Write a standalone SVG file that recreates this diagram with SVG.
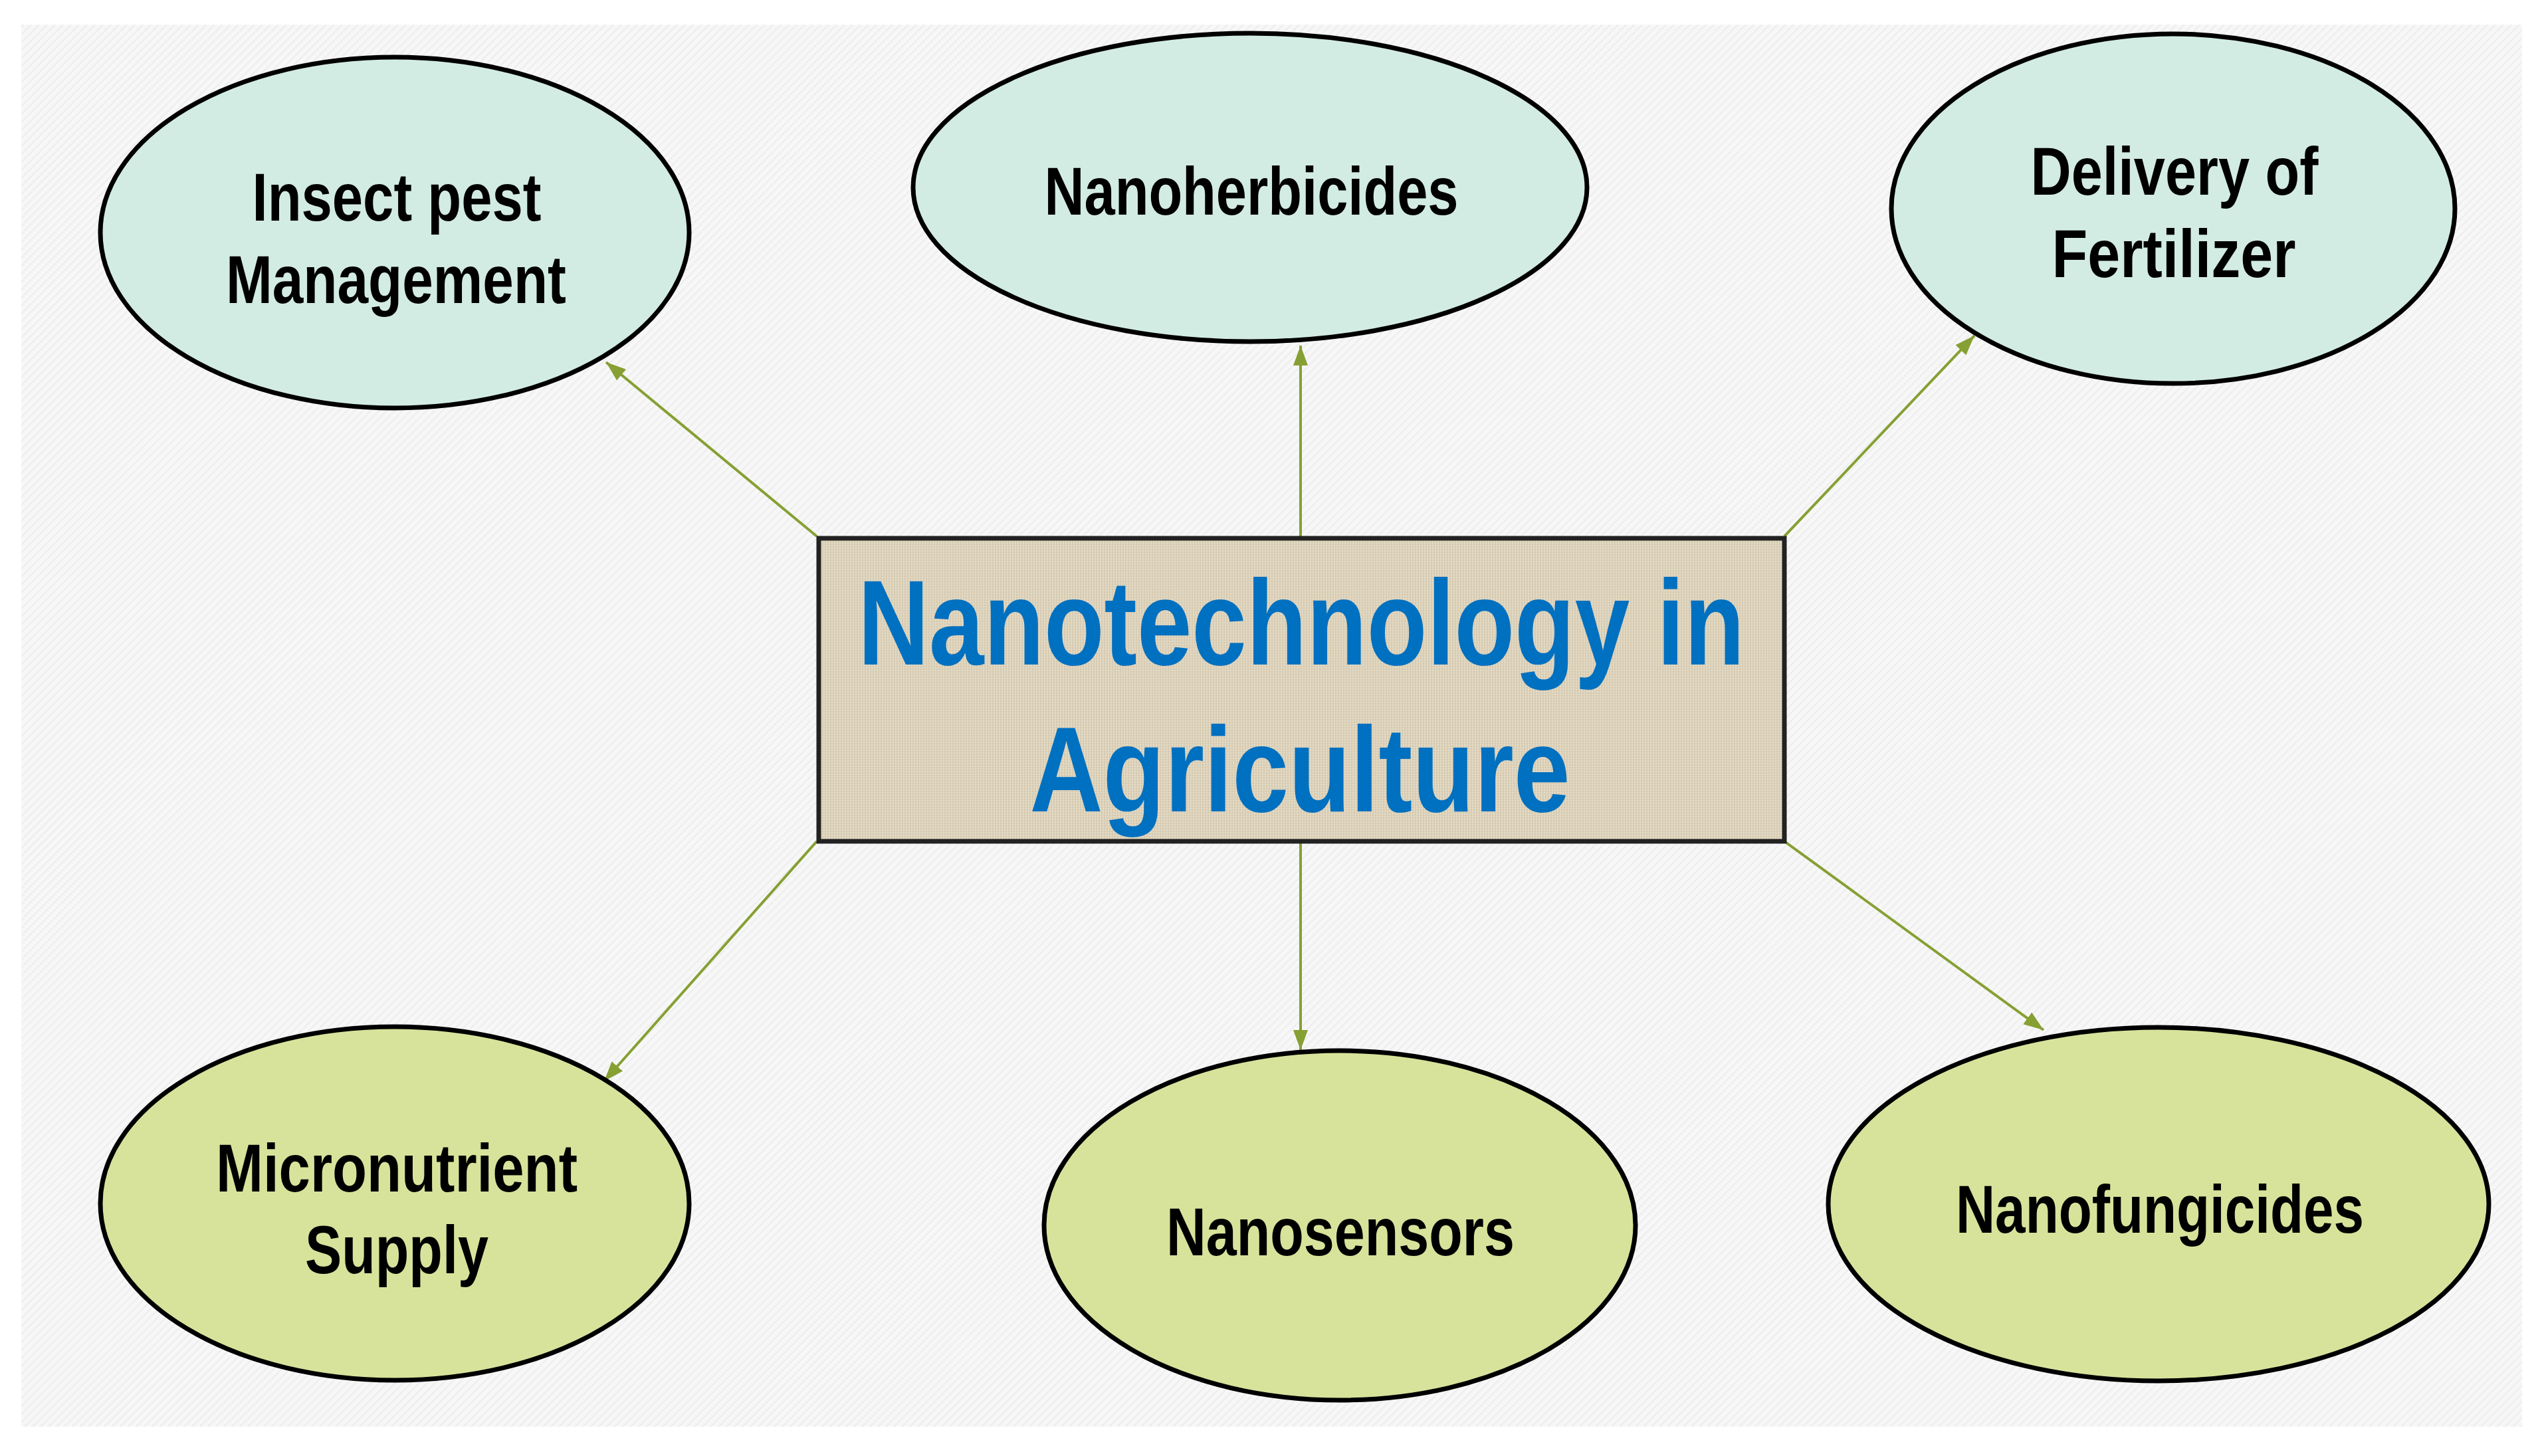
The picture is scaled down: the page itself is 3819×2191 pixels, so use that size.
<svg xmlns="http://www.w3.org/2000/svg" width="3819" height="2191" viewBox="0 0 3819 2191">
<style>
.lbl{font-family:"Liberation Sans",Arial,sans-serif;font-size:102px;font-weight:bold;fill:#000;text-anchor:middle}
.title{font-family:"Liberation Sans",Arial,sans-serif;font-size:182px;font-weight:bold;fill:#0070C0;text-anchor:middle}
.top{fill:#D3ECE3;stroke:#000;stroke-width:7}
.bot{fill:#D7E39B;stroke:#000;stroke-width:7}
.conn{stroke:#86A033;stroke-width:4;fill:none;marker-end:url(#ah)}
</style>
<defs>
<marker id="ah" markerUnits="userSpaceOnUse" markerWidth="32" markerHeight="26" viewBox="0 0 32 26" refX="30" refY="13" orient="auto">
<path d="M0,2 L30,13 L0,24 Z" fill="#86A033"/>
</marker>
<pattern id="bg" width="12" height="12" patternUnits="userSpaceOnUse">
<rect width="12" height="12" fill="#F7F7F7"/>
<path d="M0,12 L12,0" stroke="#EDEDED" stroke-width="2"/>
</pattern>
<pattern id="linen" width="8" height="8" patternUnits="userSpaceOnUse">
<rect width="8" height="8" fill="#DDD2BB"/>
<path d="M0,1 H8 M0,5 H8" stroke="#EAE1CD" stroke-width="1.5"/>
<path d="M2,0 V8 M6,0 V8" stroke="#CDC1A7" stroke-width="1"/>
</pattern>
</defs>
<rect width="3819" height="2191" fill="#FFFFFF"/>
<rect x="32" y="37" width="3763" height="2110" fill="url(#bg)"/>

<g id="connectors">
<line class="conn" x1="1229" y1="807" x2="912" y2="545"/>
<line class="conn" x1="1957" y1="807" x2="1957" y2="520"/>
<line class="conn" x1="2685" y1="807" x2="2971" y2="505"/>
<line class="conn" x1="1229" y1="1266" x2="909" y2="1627"/>
<line class="conn" x1="1957" y1="1266" x2="1957" y2="1580"/>
<line class="conn" x1="2685" y1="1266" x2="3075" y2="1550"/>
</g>

<g id="center">
<rect x="1232" y="810" width="1453" height="456" fill="url(#linen)" stroke="#222" stroke-width="7"/>
<text class="title" x="1958" y="1000" textLength="1334" lengthAdjust="spacingAndGlyphs">Nanotechnology in</text>
<text class="title" x="1956" y="1221" textLength="813" lengthAdjust="spacingAndGlyphs">Agriculture</text>
</g>

<g id="insect-pest">
<ellipse class="top" cx="594" cy="350" rx="443" ry="264"/>
<text class="lbl" x="597" y="332" textLength="435" lengthAdjust="spacingAndGlyphs">Insect pest</text>
<text class="lbl" x="596" y="456" textLength="512" lengthAdjust="spacingAndGlyphs">Management</text>
</g>

<g id="nanoherbicides">
<ellipse class="top" cx="1881" cy="282" rx="507" ry="232"/>
<text class="lbl" x="1883" y="323" textLength="623" lengthAdjust="spacingAndGlyphs">Nanoherbicides</text>
</g>

<g id="fertilizer">
<ellipse class="top" cx="3270" cy="314" rx="424" ry="263"/>
<text class="lbl" x="3272" y="293" textLength="433" lengthAdjust="spacingAndGlyphs">Delivery of</text>
<text class="lbl" x="3271" y="417" textLength="367" lengthAdjust="spacingAndGlyphs">Fertilizer</text>
</g>

<g id="micronutrient">
<ellipse class="bot" cx="594" cy="1811" rx="443" ry="266"/>
<text class="lbl" x="597" y="1793" textLength="544" lengthAdjust="spacingAndGlyphs">Micronutrient</text>
<text class="lbl" x="597" y="1916" textLength="276" lengthAdjust="spacingAndGlyphs">Supply</text>
</g>

<g id="nanosensors">
<ellipse class="bot" cx="2016" cy="1844" rx="445" ry="263"/>
<text class="lbl" x="2017" y="1889" textLength="524" lengthAdjust="spacingAndGlyphs">Nanosensors</text>
</g>

<g id="nanofungicides">
<ellipse class="bot" cx="3248" cy="1812" rx="497" ry="266"/>
<text class="lbl" x="3250" y="1855" textLength="614" lengthAdjust="spacingAndGlyphs">Nanofungicides</text>
</g>
</svg>
